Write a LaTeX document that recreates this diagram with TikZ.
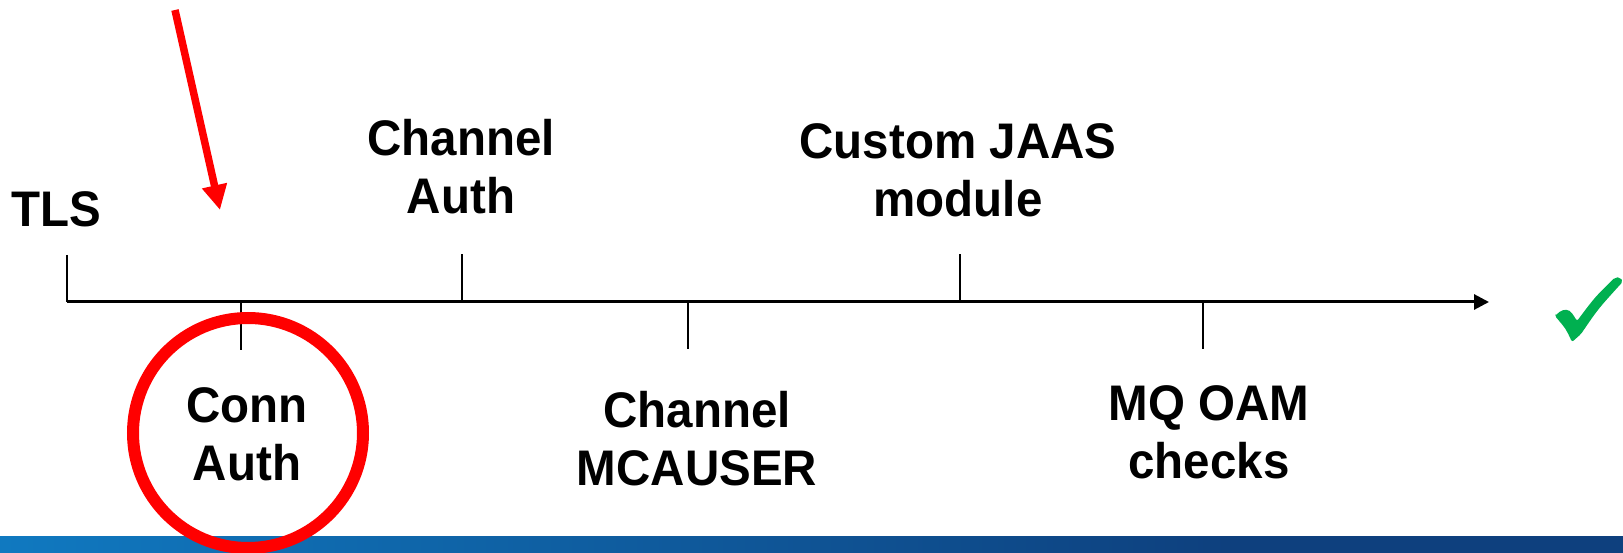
\documentclass[tikz,border=0pt]{standalone}
\usepackage{fontspec}
\newfontfamily\lblfont{Liberation Sans}[FakeStretch=0.95]
\usetikzlibrary{arrows.meta}
\definecolor{hlred}{RGB}{255,0,0}
\definecolor{okgreen}{RGB}{0,176,80}
\definecolor{barL}{RGB}{16,121,192}
\definecolor{barR}{RGB}{14,64,126}
\tikzset{
  lbl/.style={font=\lblfont\bfseries\fontsize{50}{58}\selectfont, align=center, inner sep=0pt, anchor=north, text=black},
  tick/.style={line width=2pt, black},
  axisline/.style={line width=3pt, black, -{Triangle[length=15pt,width=15pt]}},
}
\begin{document}
\begin{tikzpicture}[x=1pt,y=-1pt]
\useasboundingbox (0,0) rectangle (1623,553);
% bottom bar
\shade[left color=barL, right color=barR] (0,536) rectangle (1230,553);
\fill[barR] (1229,536) rectangle (1623,553);
% labels
\node[lbl] (tls) at (56,191) {TLS};
\node[lbl] (chauth) at (461,119) {Channel\\Auth};
\node[lbl] (jaas) at (958,123) {Custom JAAS\\module};
\node[lbl] (conn) at (247,387) {Conn\\Auth};
\node[lbl] (mcauser) at (697,391) {Channel\\MCAUSER};
\node[lbl] (oam) at (1209,385) {MQ OAM\\checks};
% axis coordinates
\coordinate (a0) at (67,302);
\coordinate (aend) at (1489,302);
\coordinate (t0) at (67,255);
\coordinate (a1) at (241,302);  \coordinate (t1) at (241,350);
\coordinate (a2) at (462,302);  \coordinate (t2) at (462,254);
\coordinate (a3) at (688,302);  \coordinate (t3) at (688,349);
\coordinate (a4) at (960,302);  \coordinate (t4) at (960,254);
\coordinate (a5) at (1203,302); \coordinate (t5) at (1203,349);
% ticks
\draw[tick] (a1) -- (t1);
\draw[tick] (a2) -- (t2);
\draw[tick] (a3) -- (t3);
\draw[tick] (a4) -- (t4);
\draw[tick] (a5) -- (t5);
% axis
\draw[line width=2pt] (t0) -- (a0);
\draw[axisline] (a0) -- (aend);
% highlight circle
\node[circle, draw=hlred, line width=12pt, minimum size=230pt, inner sep=0pt] (hl) at (248,433) {};
% red pointer arrow
\coordinate (ps) at (175,10);
\coordinate (pe) at (220,210);
\draw[hlred, line width=7.5pt, -{Triangle[length=25pt,width=24pt]}] (ps) -- (pe);
% check mark
\fill[okgreen, rounded corners=2pt] (1555,316) -- (1561,310.5) -- (1568,309.5)
  .. controls (1572,313) .. (1577,321)
  .. controls (1595,297) .. (1615,277.5) -- (1620,277.5) -- (1623,281.5)
  .. controls (1598,309) .. (1581,334) -- (1572,342)
  .. controls (1566,329) .. (1555,316) -- cycle;
\end{tikzpicture}
\end{document}
